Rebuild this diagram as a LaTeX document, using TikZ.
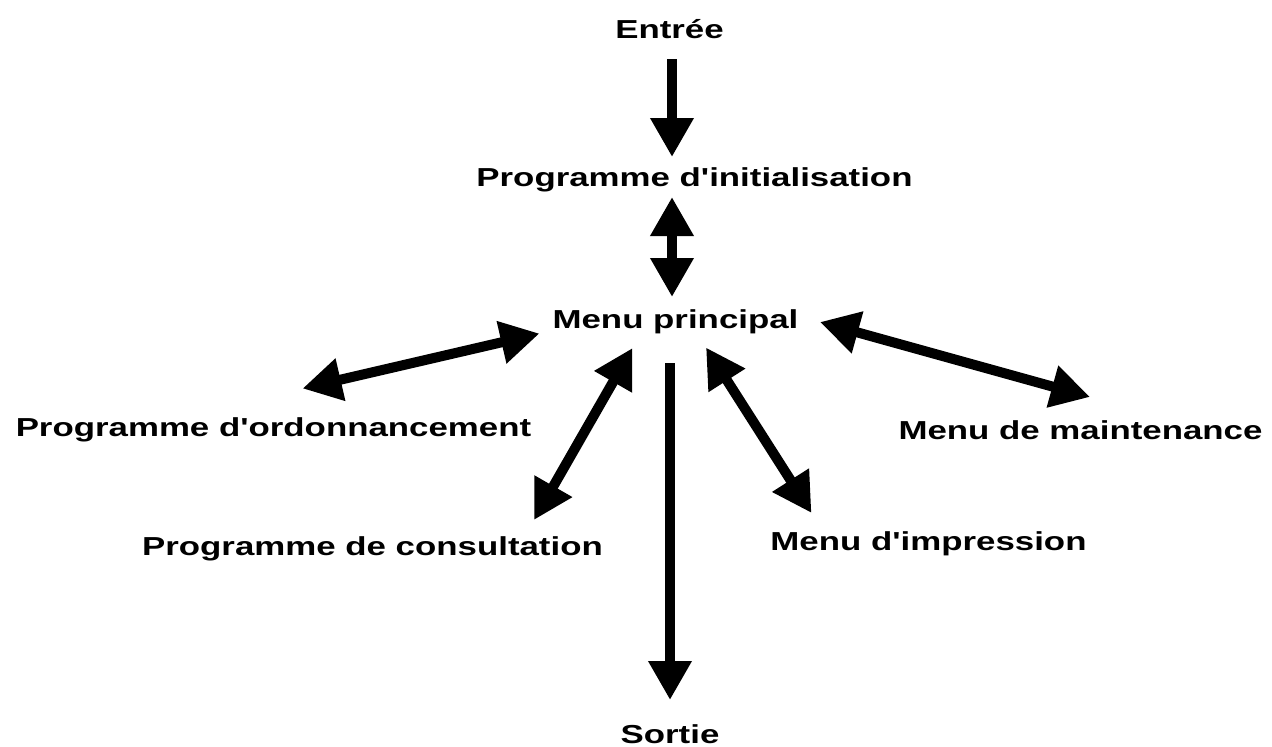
\documentclass[tikz,border=0pt]{standalone}
\usepackage{fontspec}
\setmainfont{Liberation Sans}
\usepackage{graphicx}
\usetikzlibrary{arrows.meta}
\newcommand{\lbl}[1]{\scalebox{1.34}[1]{#1}}
\newcommand{\ap}{\textquotesingle}
\tikzset{
  label text/.style={inner sep=0pt, anchor=base, font=\fontsize{26}{30}\selectfont\bfseries},
  one way/.style={line width=10pt, -{Triangle[width=41pt,length=39pt]}},
  two way/.style={line width=10pt, {Triangle[width=41pt,length=39pt]}-{Triangle[width=41pt,length=39pt]}}
}
\begin{document}
\begin{tikzpicture}[x=1pt,y=-1pt]
\useasboundingbox (0,0) rectangle (1272,747);
% labels
\node[label text] (entree) at (669.5,38.3) {\lbl{Entrée}};
\node[label text] (init) at (694.5,186.7) {\lbl{Programme d\ap initialisation}};
\node[label text] (menu) at (675.5,328.3) {\lbl{Menu principal}};
\node[label text] (ordo) at (273.5,436.7) {\lbl{Programme d\ap ordonnancement}};
\node[label text] (maint) at (1080.5,439.3) {\lbl{Menu de maintenance}};
\node[label text] (consult) at (372.5,555) {\lbl{Programme de consultation}};
\node[label text] (impr) at (928.5,550) {\lbl{Menu d\ap impression}};
\node[label text] (sortie) at (670,743) {\lbl{Sortie}};
% connector end points
\coordinate (entreeS) at (672,59);
\coordinate (initN) at (672,157);
\coordinate (initS) at (672,197);
\coordinate (menuN) at (672,297);
\coordinate (menuW) at (539.5,333.5);
\coordinate (ordoNE) at (302.5,388.5);
\coordinate (menuSW) at (632.5,348);
\coordinate (consultNE) at (534,520);
\coordinate (menuS) at (670,363);
\coordinate (sortieN) at (670,700);
\coordinate (menuSE) at (706,347.5);
\coordinate (imprNW) at (811.5,513);
\coordinate (menuE) at (820,322);
\coordinate (maintNW) at (1090,397);
% connectors
\draw[one way] (entreeS) -- (initN);
\draw[two way] (initS) -- (menuN);
\draw[two way] (ordoNE) -- (menuW);
\draw[two way] (consultNE) -- (menuSW);
\draw[one way] (menuS) -- (sortieN);
\draw[two way] (menuSE) -- (imprNW);
\draw[two way] (menuE) -- (maintNW);
\end{tikzpicture}
\end{document}
